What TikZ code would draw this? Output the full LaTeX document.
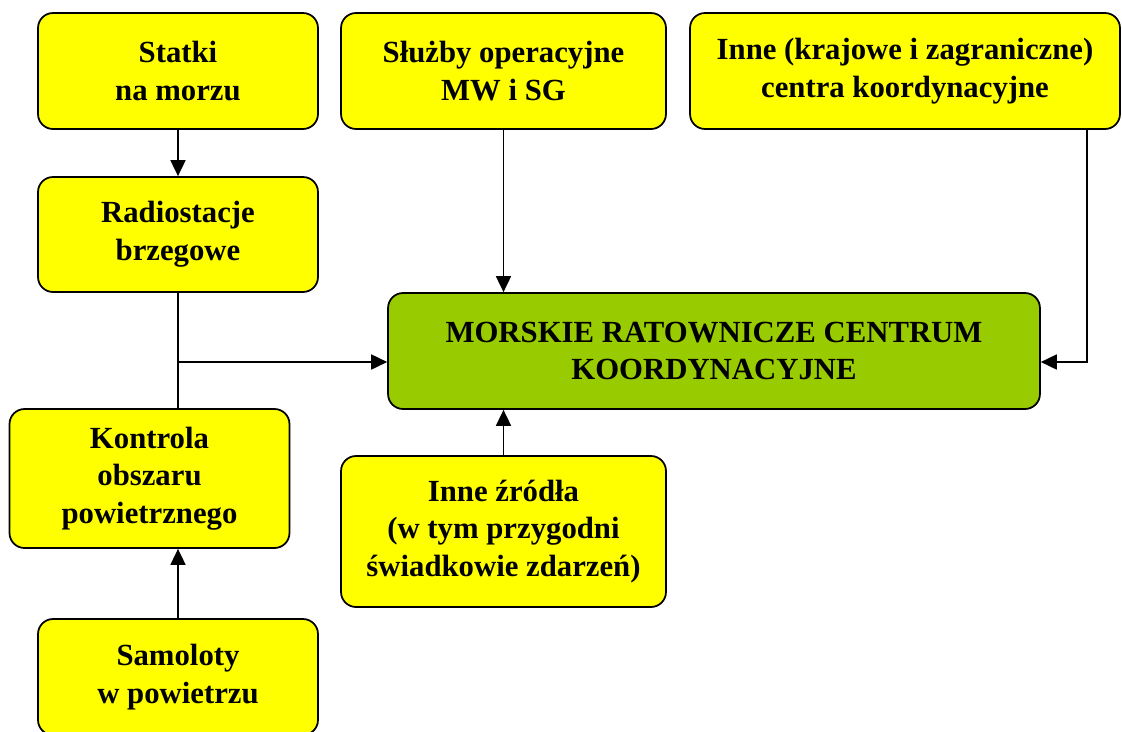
\documentclass[tikz,border=0pt]{standalone}
\usepackage{fontspec}
\setmainfont{Liberation Serif}
\usepackage{tikz}
\usetikzlibrary{arrows.meta}
\definecolor{ramka}{RGB}{255,255,0}
\definecolor{centrum}{RGB}{153,204,0}
\tikzset{
  box/.style={draw, line width=1pt, rounded corners=0.3cm, fill=ramka, align=center,
    inner sep=0pt, font=\fontsize{17.5}{21.5}\selectfont\bfseries},
  strz/.style={line width=1pt, -{Triangle[length=0.32cm, width=0.3cm]}},
  linia/.style={line width=1pt}
}
\begin{document}
\begin{tikzpicture}[x=0.02cm, y=-0.02cm]
				\useasboundingbox (0,0) rectangle (1122,731);
				\node[box, minimum width=5.6cm, minimum height=2.32cm] (statki) at (178,71) {Statki\\na morzu};
				\node[box, minimum width=6.5cm, minimum height=2.32cm] (sluzby) at (503.5,71) {Służby operacyjne\\MW i SG};
				\node[box, minimum width=8.6cm, minimum height=2.32cm] (inne) at (905,71) {Inne (krajowe i zagraniczne)\\centra koordynacyjne};
				\node[box, minimum width=5.6cm, minimum height=2.3cm] (radio) at (178,234.5) {Radiostacje\\brzegowe};
				\node[box, fill=centrum, minimum width=13.04cm, minimum height=2.32cm] (mrck) at (714,351) {MORSKIE RATOWNICZE CENTRUM\\KOORDYNACYJNE};
				\node[box, minimum width=5.6cm, minimum height=2.78cm] (kontrola) at (149.5,478.5) {Kontrola\\obszaru\\powietrznego};
				\node[box, minimum width=6.5cm, minimum height=3.02cm] (zrodla) at (503.5,531.5) {Inne źródła\\(w tym przygodni\\świadkowie zdarzeń)};
				\node[box, minimum width=5.6cm, minimum height=2.32cm] (samoloty) at (178,677) {Samoloty\\w powietrzu};
				\coordinate (prawa) at (1087,129);
				\coordinate (wejscie) at (0,362);
				\draw[strz] (statki.south) -- (radio.north);
				\draw[strz] (sluzby.south) -- (sluzby.south |- mrck.north);
				\draw[strz] (prawa) |- (wejscie -| mrck.east);
				\draw[linia] (radio.south) -- (radio.south |- kontrola.north);
				\draw[strz] (wejscie -| radio.south) -- (wejscie -| mrck.west);
				\draw[strz] (samoloty.north) -- (samoloty.north |- kontrola.south);
				\draw[strz] (zrodla.north) -- (zrodla.north |- mrck.south);
			\end{tikzpicture}
\end{document}
